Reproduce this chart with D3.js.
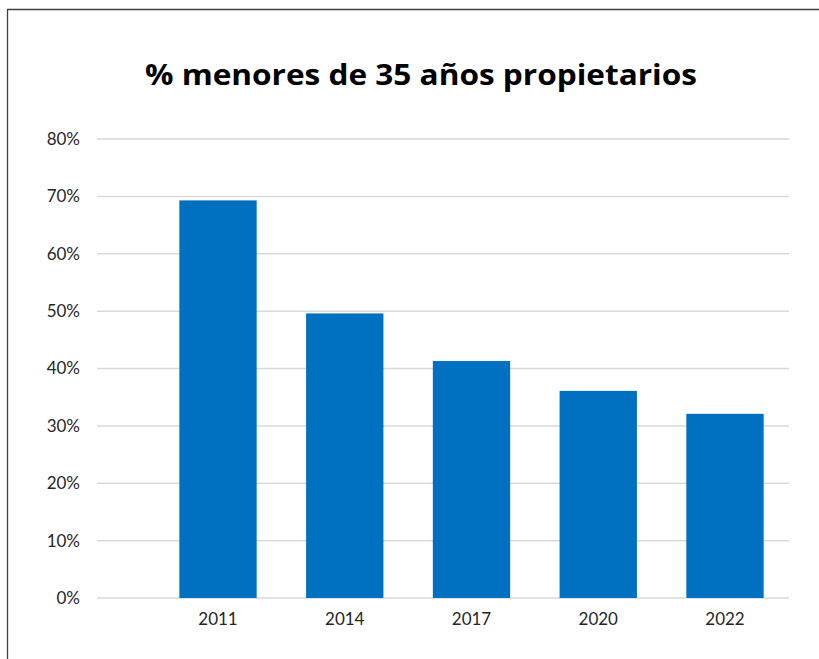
<!DOCTYPE html>
<html><head><meta charset="utf-8">
<script src="https://cdn.jsdelivr.net/npm/d3@7"></script>
<style>body{margin:0;background:#fff}svg{display:block}</style>
</head><body>
<script>
const categories = ["2011","2014","2017","2020","2022"];
const values = [0.693, 0.496, 0.413, 0.361, 0.321];
const yTicks = [0,0.1,0.2,0.3,0.4,0.5,0.6,0.7,0.8];
const title = "% menores de 35 años propietarios";

const W = 819, H = 659;
const svg = d3.select("body").append("svg").attr("width", W).attr("height", H);
svg.append("rect").attr("width", W).attr("height", H).attr("fill", "#fff");
// frame
svg.append("path").attr("d", `M7.5,${H+2} V9.5 H${W+2}`).attr("fill","none").attr("stroke","#404040").attr("stroke-width",1.3);

const plot = {left: 97, right: 789, top: 139, bottom: 598};
const y = d3.scaleLinear().domain([0,0.8]).range([plot.bottom, plot.top]);
const x = d3.scaleBand().domain(categories).range([154, plot.right]).paddingInner(0.39).paddingOuter(0.2);

// gridlines
svg.append("g").selectAll("line").data(yTicks).join("line")
  .attr("x1", plot.left).attr("x2", plot.right)
  .attr("y1", d => y(d)).attr("y2", d => y(d))
  .attr("stroke", "#d9d9d9").attr("stroke-width", 1.5);

// y labels
svg.append("g").selectAll("text").data(yTicks).join("text")
  .attr("x", 80).attr("y", d => y(d)).attr("dy", "0.35em")
  .attr("text-anchor", "end")
  .attr("font-family", "Lato, 'Open Sans', sans-serif").attr("font-size", 17)
  .attr("fill", "#262626")
  .text(d => d3.format(".0%")(d));

// bars
svg.append("g").selectAll("rect").data(values).join("rect")
  .attr("x", (d,i) => x(categories[i]))
  .attr("width", x.bandwidth())
  .attr("y", d => y(d))
  .attr("height", d => y(0) - y(d))
  .attr("fill", "#0070C0");

// x labels
svg.append("g").selectAll("text").data(categories).join("text")
  .attr("x", d => x(d) + x.bandwidth()/2).attr("y", 619).attr("dy", "0.35em")
  .attr("text-anchor", "middle")
  .attr("font-family", "Lato, 'Open Sans', sans-serif").attr("font-size", 17)
  .attr("fill", "#262626")
  .text(d => d);

// title
const t = svg.append("text").attr("x", 421).attr("y", 85)
  .attr("text-anchor", "middle")
  .attr("font-family", "'Open Sans', Lato, sans-serif").attr("font-weight", 700)
  .attr("font-size", 29).attr("fill", "#000")
  .text(title);
const len = t.node().getComputedTextLength();
if (Math.abs(len - 552) > 4) t.attr("textLength", 552).attr("lengthAdjust", "spacingAndGlyphs");
</script>
</body></html>
